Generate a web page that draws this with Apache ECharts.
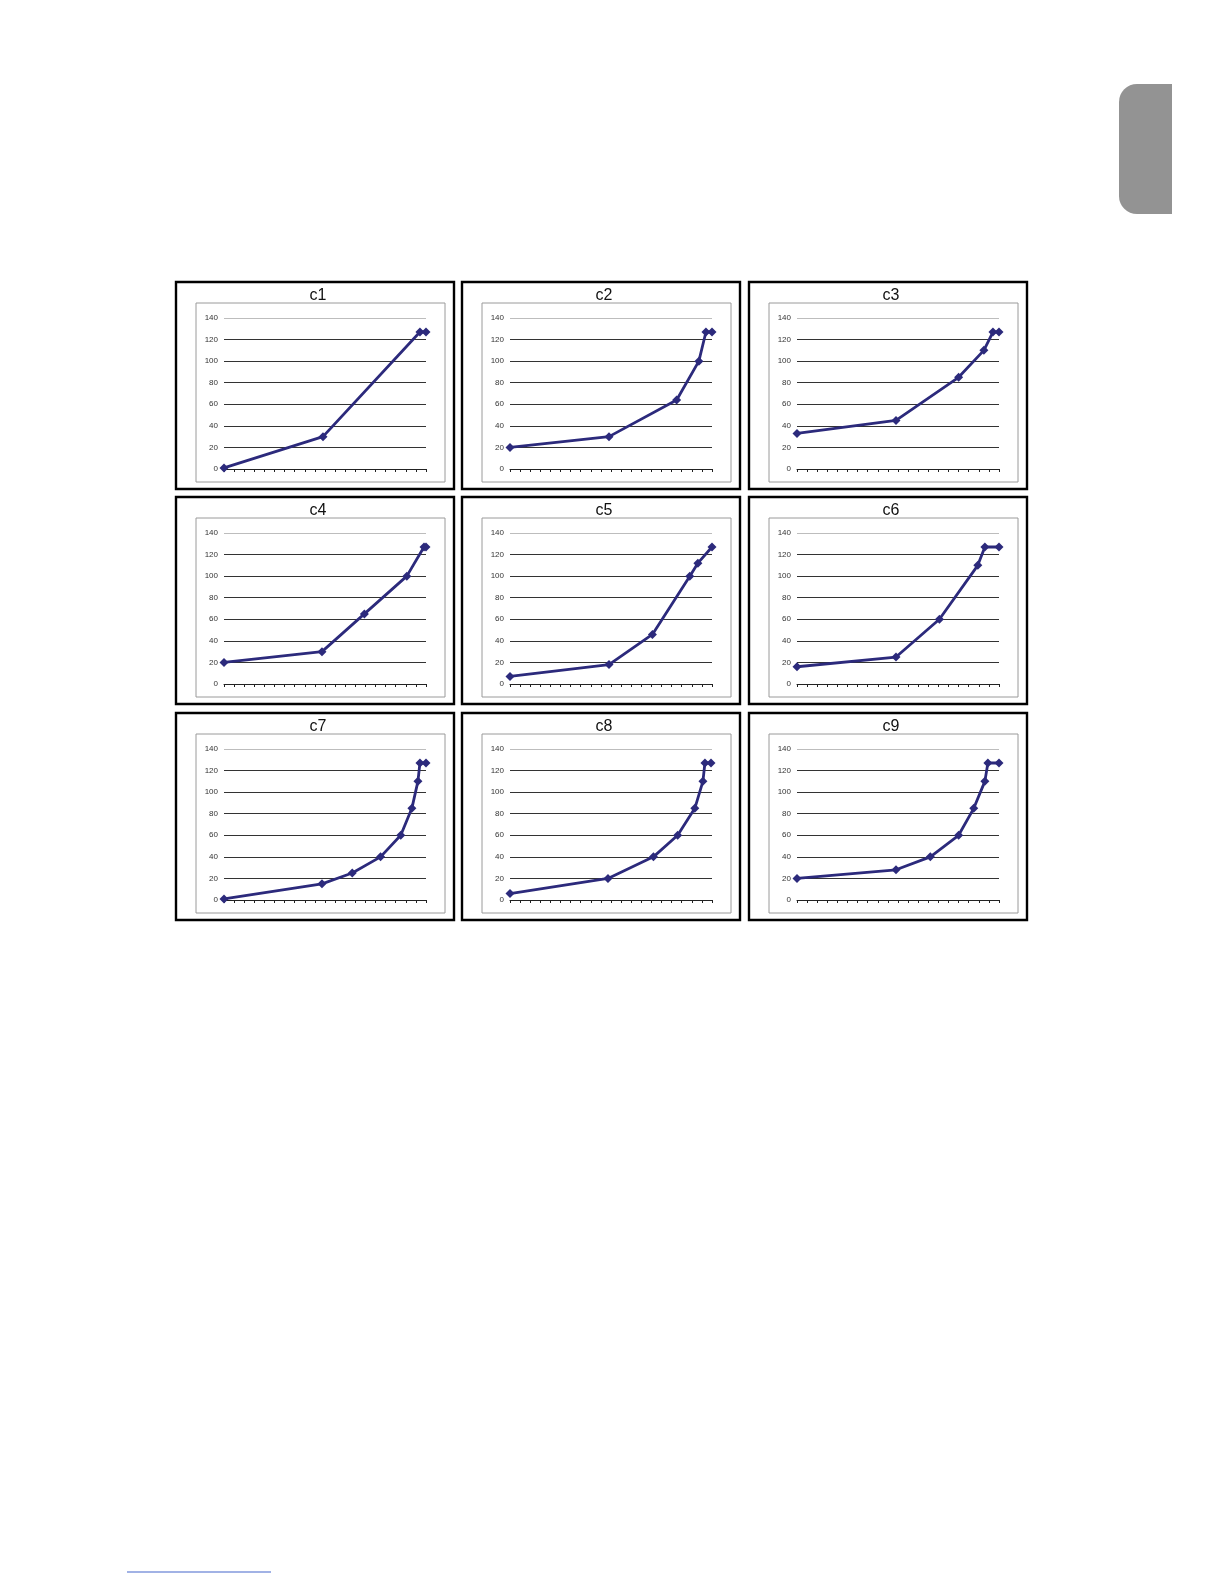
<!DOCTYPE html>
<html>
<head>
<meta charset="utf-8">
<script src="https://cdn.jsdelivr.net/npm/echarts@6/dist/echarts.min.js"></script>
<style>
html,body{margin:0;padding:0;background:#fff;}
#chart{width:1224px;height:1584px;}
</style>
</head>
<body>
<div id="chart"></div>
<script>
// Chart titles
const titles = ['c1','c2','c3','c4','c5','c6','c7','c8','c9'];
// Y tick labels
const yTicks = [0,20,40,60,80,100,120,140];
// Series values (x position on unlabelled axis 0..20, y value)
const c1X = [0, 9.8, 19.4, 20];
const c1Y = [1, 30, 127, 127];
const c2X = [0, 9.8, 16.5, 18.7, 19.4, 20];
const c2Y = [20, 30, 64, 100, 127, 127];
const c3X = [0, 9.8, 16.0, 18.5, 19.4, 20];
const c3Y = [33, 45, 85, 110, 127, 127];
const c4X = [0, 9.7, 13.9, 18.1, 19.8, 20];
const c4Y = [20, 30, 65, 100, 127, 127];
const c5X = [0, 9.8, 14.1, 17.8, 18.6, 20];
const c5Y = [7, 18, 46, 100, 112, 127];
const c6X = [0, 9.8, 14.1, 17.9, 18.6, 20];
const c6Y = [16, 25, 60, 110, 127, 127];
const c7X = [0, 9.7, 12.7, 15.5, 17.5, 18.6, 19.2, 19.4, 20];
const c7Y = [1, 15, 25, 40, 60, 85, 110, 127, 127];
const c8X = [0, 9.7, 14.2, 16.6, 18.3, 19.1, 19.3, 19.9];
const c8Y = [6, 20, 40, 60, 85, 110, 127, 127];
const c9X = [0, 9.8, 13.2, 16.0, 17.5, 18.6, 18.9, 20];
const c9Y = [20, 28, 40, 60, 85, 110, 127, 127];

const allX = [c1X,c2X,c3X,c4X,c5X,c6X,c7X,c8X,c9X];
const allY = [c1Y,c2Y,c3Y,c4Y,c5Y,c6Y,c7Y,c8Y,c9Y];

const colsX = [176, 462, 749];
const rowsY = [282, 497, 713];
const boxW = 278, boxH = 207;
const lineColor = '#2c2a7c';

const grids = [], xAxes = [], yAxes = [], series = [], titleOpts = [], graphics = [];

for (let i = 0; i < 9; i++) {
  const bx = colsX[i % 3], by = rowsY[Math.floor(i / 3)];
  graphics.push({type:'rect', shape:{x:bx, y:by, width:boxW, height:boxH},
    style:{fill:'#fff', stroke:'#000', lineWidth:2.4}, z:-10});
  graphics.push({type:'rect', shape:{x:bx+20, y:by+21, width:249, height:179},
    style:{fill:'none', stroke:'#9a9a9a', lineWidth:1}, z:-9});
  titleOpts.push({text:titles[i], left:bx+boxW/2 - 2, top:by+1, textAlign:'center',
    textStyle:{fontFamily:'Liberation Sans, Arial', fontSize:16, fontWeight:'normal', color:'#111'}});
  grids.push({left:bx+48, top:by+36, width:202, height:151});
  xAxes.push({type:'value', gridIndex:i, min:0, max:20, interval:1,
    axisLine:{show:true, onZero:false, lineStyle:{color:'#222', width:1}},
    axisTick:{show:true, length:3, lineStyle:{color:'#222', width:1}},
    axisLabel:{show:false}, splitLine:{show:false}});
  yAxes.push({type:'value', gridIndex:i, min:yTicks[0], max:yTicks[yTicks.length-1], interval:20,
    axisLine:{show:false}, axisTick:{show:false},
    axisLabel:{show:true, fontSize:8, fontFamily:'Liberation Sans, Arial', color:'#333', margin:6},
    splitLine:{show:true, lineStyle:{width:1.1, color:['#333','#333','#333','#333','#333','#333','#333','#bdbdbd']}}});
  series.push({type:'line', xAxisIndex:i, yAxisIndex:i, clip:false,
    data: allX[i].map((x, k) => [x, allY[i][k]]),
    symbol:'diamond', symbolSize:9, showSymbol:true,
    lineStyle:{color:lineColor, width:2.8},
    itemStyle:{color:lineColor}});
}

// grey side tab and link underline
graphics.push({type:'rect', shape:{x:1119, y:84, width:53, height:130, r:[18,0,0,18]},
  style:{fill:'#939393'}});
graphics.push({type:'line', shape:{x1:127, y1:1572, x2:271, y2:1572},
  style:{stroke:'#4466cc', lineWidth:1.2}});

const chart = echarts.init(document.getElementById('chart'));
chart.setOption({
  backgroundColor:'#fff',
  animation:false,
  title:titleOpts,
  grid:grids,
  xAxis:xAxes,
  yAxis:yAxes,
  series:series,
  graphic:graphics
});
</script>
</body>
</html>
